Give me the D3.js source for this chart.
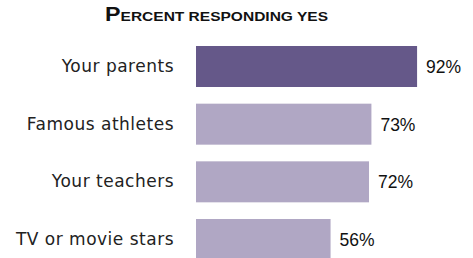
<!DOCTYPE html>
<html><head><meta charset="utf-8">
<script src="https://cdn.jsdelivr.net/npm/d3@7"></script>
<style>body{margin:0;background:#fff}svg{display:block}</style>
</head><body>
<script>
const categories = ["Your parents", "Famous athletes", "Your teachers", "TV or movie stars"];
const values = [92, 73, 72, 56];
const highlight = ["Your parents"];
const titleWords = ["Percent", "responding", "yes"];

const W = 473, H = 258;
const svg = d3.select("body").append("svg").attr("width", W).attr("height", H);

const x = d3.scaleLinear().domain([0, 100]).range([196, 436.3]);
const y = d3.scaleBand().domain(categories).range([46, 260]).paddingInner(0.289).paddingOuter(0);

// title in small caps built from tspans
const t = svg.append("text").attr("x", 105).attr("y", 20.7)
  .attr("font-family", "Liberation Sans, Arial, sans-serif")
  .attr("font-weight", "bold").attr("fill", "#111")
  .attr("textLength", 223).attr("lengthAdjust", "spacingAndGlyphs");
titleWords.forEach((w, i) => {
  const first = w[0], rest = w.slice(1);
  if (i === 0) {
    t.append("tspan").attr("font-size", 19.5).text(first.toUpperCase());
    t.append("tspan").attr("font-size", 13).text(rest.toUpperCase());
  } else {
    t.append("tspan").attr("font-size", 13).text(" " + w.toUpperCase());
  }
});

svg.selectAll("rect.bar").data(categories).join("rect").attr("class", "bar")
  .attr("x", x(0)).attr("y", d => y(d)).attr("height", y.bandwidth())
  .attr("width", (d, i) => x(values[i]) - x(0))
  .attr("fill", d => highlight.includes(d) ? "#655889" : "#b0a7c4");

svg.selectAll("text.cat").data(categories).join("text").attr("class", "cat")
  .attr("x", 174).attr("y", d => y(d) + y.bandwidth() / 2 + 5.5)
  .attr("text-anchor", "end").attr("font-family", "DejaVu Sans, sans-serif")
  .attr("font-size", 17).attr("letter-spacing", 0.5).attr("fill", "#222")
  .text(d => d);

svg.selectAll("text.val").data(categories).join("text").attr("class", "val")
  .attr("x", (d, i) => x(values[i]) + 9).attr("y", d => y(d) + y.bandwidth() / 2 + 6.5)
  .attr("font-family", "Liberation Sans, Arial, sans-serif")
  .attr("font-size", 17.5).attr("fill", "#111")
  .text((d, i) => values[i] + "%");
</script>
</body></html>
